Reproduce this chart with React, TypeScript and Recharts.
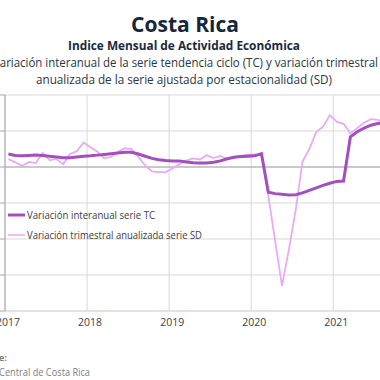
import { LineChart, Line, XAxis, YAxis, CartesianGrid, ReferenceLine, Legend } from "recharts";

// monthly values, Jan 2017 onward
const years = ["2017", "2018", "2019", "2020", "2021"];
const tcSerie = [
  3.6, 3.2, 3.1, 3.2, 3.3, 3.2, 3.0, 2.8, 2.6, 2.6, 2.8, 3.0,
  3.1, 3.3, 3.5, 3.7, 3.9, 4.1, 4.1, 3.6, 3.0, 2.4, 2.0, 1.8,
  1.7, 1.7, 1.4, 1.2, 1.1, 1.1, 1.3, 1.7, 2.3, 2.7, 2.9, 3.0,
  3.1, 3.7, -7.0, -7.4, -7.6, -7.8, -7.7, -7.2, -6.5, -5.8, -5.1, -4.5,
  -4.0, -3.9, 8.4, 9.8, 10.8, 11.6, 12.1, 12.3,
];
const sdSerie = [
  2.2, 1.3, 0.3, 1.4, 1.1, 3.9, 1.9, 2.2, 0.8, 3.6, 4.4, 6.8,
  5.5, 4.3, 2.4, 2.8, 4.2, 5.2, 5.0, 2.8, 0.4, -1.2, -1.4, -1.4,
  -0.4, 0.8, 1.8, 2.4, 2.1, 3.3, 2.5, 3.1, 2.2, 2.8, 3.1, 3.4,
  3.5, 3.3, -8.0, -20.5, -33.0, -23.0, -12.0, 1.5, 5.0, 9.7, 11.2, 14.4,
  12.6, 12.0, 9.4, 10.8, 12.3, 13.3, 13.1, 12.4,
];
const yTicks = [-40, -30, -20, -10, 0, 10, 20];
const legendLabels = ["Variación interanual serie TC", "Variación trimestral anualizada serie SD"];

const data = tcSerie.map((v, i) => ({ m: i + 0.5, tc: v, sd: sdSerie[i] }));
const xTicks = years.map((_, i) => i * 12);

const FONT = "'Open Sans', sans-serif";
const TC_COLOR = "#a44fbf";
const SD_COLOR = "#e9aaf7";

function LegendBox() {
  return (
    <svg width={210} height={40} style={{ display: "block" }}>
      <line x1={2} x2={19} y1={8} y2={8} stroke={TC_COLOR} strokeWidth={3} />
      <text x={21} y={11.5} fontSize={10.5} fill="#404040" fontFamily={FONT} textLength={128} lengthAdjust="spacingAndGlyphs">
        {legendLabels[0]}
      </text>
      <line x1={2} x2={19} y1={28} y2={28} stroke={SD_COLOR} strokeWidth={1.5} />
      <text x={21} y={31.5} fontSize={10.5} fill="#404040" fontFamily={FONT} textLength={175} lengthAdjust="spacingAndGlyphs">
        {legendLabels[1]}
      </text>
    </svg>
  );
}

export default function App() {
  return (
    <div style={{ position: "fixed", left: 0, top: 0, width: 380, height: 380, overflow: "hidden", background: "#fff" }}>
      <LineChart width={400} height={345} data={data} margin={{ top: 95, right: 12, left: 0, bottom: 0 }}>
        <CartesianGrid stroke="#d9d9d9" strokeWidth={1} />
        <XAxis
          type="number"
          dataKey="m"
          domain={[0, 56]}
          ticks={xTicks}
          interval={0}
          tickFormatter={(v: number) => years[v / 12]}
          tick={{ fontSize: 10.5, fill: "#404040", fontFamily: FONT, dx: 3 }}
          tickLine={false}
          axisLine={{ stroke: "#d9d9d9" }}
          height={34}
          allowDataOverflow
        />
        <YAxis
          domain={[-40, 20]}
          ticks={yTicks}
          width={5}
          tick={() => <g />}
          tickSize={5}
          tickLine={{ stroke: "#a6a6a6" }}
          axisLine={{ stroke: "#a6a6a6" }}
        />
        <ReferenceLine y={0} stroke="#a6a6a6" strokeWidth={1.2} />
        <Legend
          verticalAlign="middle"
          align="center"
          layout="horizontal"
          wrapperStyle={{ top: 207, left: 6, width: 210 }}
          content={() => <LegendBox />}
        />
        <Line type="linear" dataKey="sd" stroke={SD_COLOR} strokeWidth={1.8} dot={false} isAnimationActive={false} />
        <Line type="linear" dataKey="tc" stroke={TC_COLOR} strokeWidth={3} dot={false} isAnimationActive={false} />
      </LineChart>
      <svg width={380} height={380} style={{ position: "absolute", left: 0, top: 0, pointerEvents: "none" }} fontFamily={FONT}>
        <text x={185} y={32} textAnchor="middle" fontSize={21} fontWeight={700} fill="#14263c" textLength={108} lengthAdjust="spacingAndGlyphs">
          Costa Rica
        </text>
        <text x={184} y={50} textAnchor="middle" fontSize={11.5} fontWeight={700} fill="#1b2a3c" textLength={232} lengthAdjust="spacingAndGlyphs">
          Indice Mensual de  Actividad Económica
        </text>
        <text x={185.5} y={67} textAnchor="middle" fontSize={12.5} fill="#2a3545" textLength={385} lengthAdjust="spacingAndGlyphs">
          Variación interanual de la serie tendencia ciclo (TC) y variación trimestral
        </text>
        <text x={184} y={84} textAnchor="middle" fontSize={12.5} fill="#2a3545" textLength={296} lengthAdjust="spacingAndGlyphs">
          anualizada de la serie ajustada por estacionalidad (SD)
        </text>
        <text x={7} y={361} textAnchor="end" fontSize={9.5} fontWeight={700} fill="#808080">
          Fuente:
        </text>
        <text x={90} y={376} textAnchor="end" fontSize={10.5} fill="#808080" textLength={120} lengthAdjust="spacingAndGlyphs">
          Banco Central de Costa Rica
        </text>
      </svg>
    </div>
  );
}
